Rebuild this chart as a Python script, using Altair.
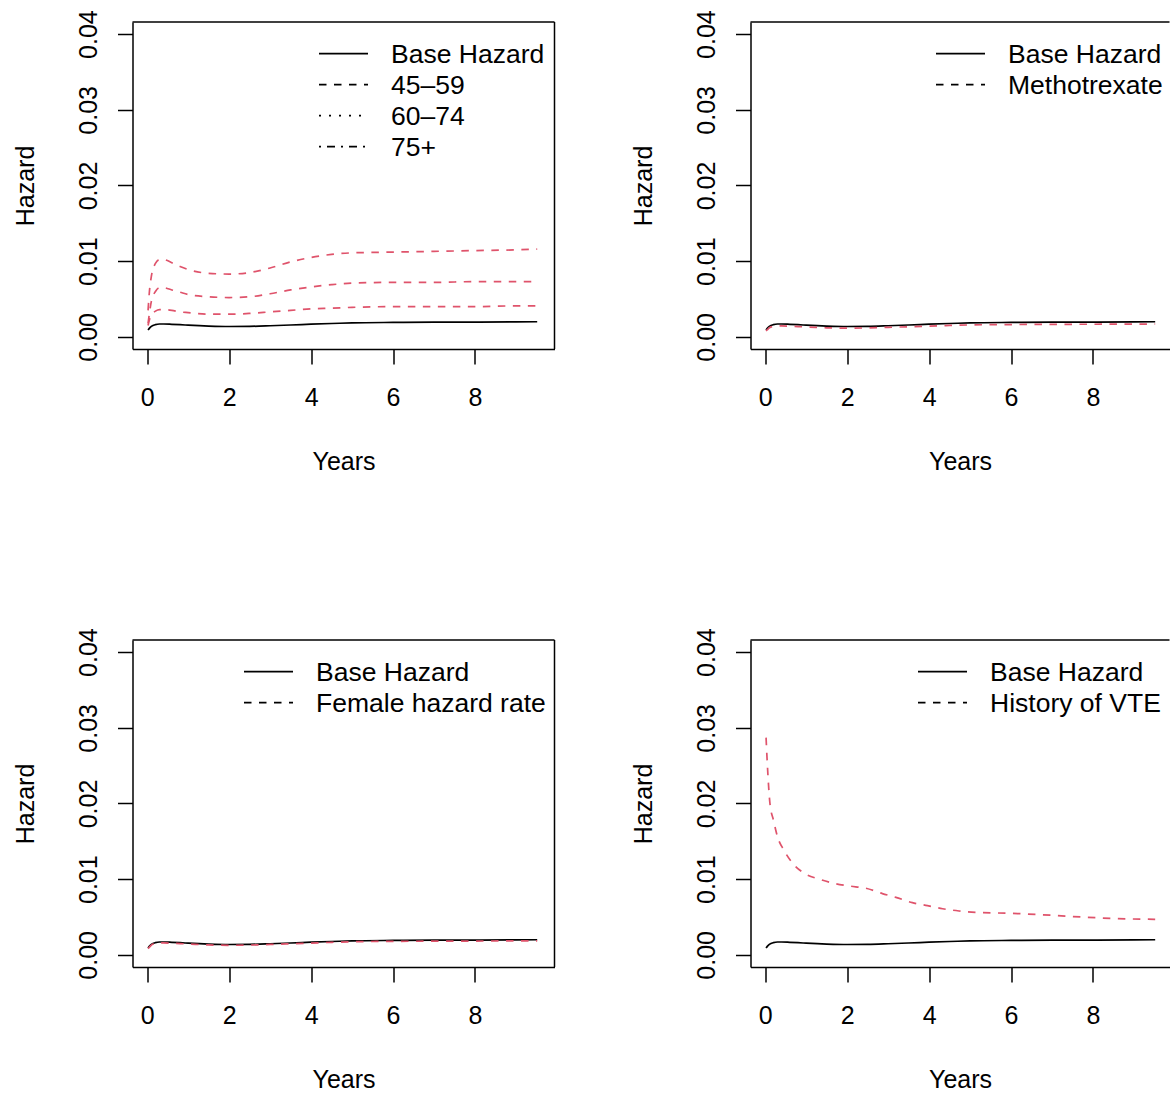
import altair as alt
import pandas as pd

# ---- data -------------------------------------------------------------
years = [0.02, 0.05, 0.1, 0.2, 0.3, 0.4, 0.6, 0.8, 1.0, 1.5, 2.0, 2.5,
         3.0, 3.5, 4.0, 4.5, 5.0, 6.0, 7.0, 8.0, 9.0, 9.52]

base_hazard = [0.0009, 0.00112, 0.00138, 0.00162, 0.0017, 0.0017, 0.00166,
               0.00161, 0.00155, 0.00143, 0.00137, 0.00139, 0.00147, 0.00157,
               0.00168, 0.00177, 0.00185, 0.00191, 0.00194, 0.00196, 0.00198,
               0.002]

age_45_59 = [0.0015, 0.0022, 0.0029, 0.0034, 0.0036, 0.0036, 0.0035, 0.0033,
             0.0032, 0.0030, 0.0030, 0.0031, 0.0033, 0.0035, 0.0037, 0.0038,
             0.0039, 0.0040, 0.0040, 0.0040, 0.0041, 0.0041]
age_60_74 = [0.0018, 0.0030, 0.0047, 0.0060, 0.0065, 0.0065, 0.0062, 0.0059,
             0.0056, 0.0053, 0.0052, 0.0053, 0.0057, 0.0062, 0.0066, 0.0069,
             0.0071, 0.0072, 0.0072, 0.0073, 0.0073, 0.0073]
age_75_plus = [0.0035, 0.0058, 0.0080, 0.0097, 0.0102, 0.0102, 0.0098, 0.0093,
               0.0089, 0.0084, 0.0083, 0.0085, 0.0091, 0.0099, 0.0105, 0.0109,
               0.0111, 0.0112, 0.0113, 0.0114, 0.0115, 0.0116]

methotrexate = [0.0008, 0.00095, 0.0012, 0.0014, 0.00145, 0.00145, 0.0014,
                0.00136, 0.00132, 0.0012, 0.00116, 0.00119, 0.00126, 0.00134,
                0.00143, 0.00151, 0.00158, 0.00163, 0.00166, 0.00167, 0.00169,
                0.0017]

female = [0.00084, 0.001, 0.0013, 0.00153, 0.00158, 0.00158, 0.00153, 0.00149,
          0.00144, 0.00132, 0.00127, 0.0013, 0.00138, 0.00147, 0.00156,
          0.00166, 0.00173, 0.00179, 0.00181, 0.00183, 0.00185, 0.00186]

vte_years = [0.02, 0.06, 0.115, 0.2, 0.3, 0.46, 0.67, 0.95, 1.32, 1.72, 2.05,
             2.46, 2.86, 3.19, 3.59, 3.96, 4.33, 4.73, 5.22, 5.95, 6.76, 7.73,
             8.55, 9.52]
vte_hazard = [0.0287, 0.0243, 0.0200, 0.0178, 0.0156, 0.0138, 0.0121, 0.0108,
              0.0100, 0.0094, 0.0091, 0.0088, 0.0081, 0.0076, 0.0069, 0.0065,
              0.0061, 0.0058, 0.0056, 0.0055, 0.0053, 0.0050, 0.0048, 0.0047]

legend_age = ["Base Hazard", "45\u201359", "60\u201374", "75+"]
legend_mtx = ["Base Hazard", "Methotrexate"]
legend_sex = ["Base Hazard", "Female hazard rate"]
legend_vte = ["Base Hazard", "History of VTE"]

x_ticks = [0, 2, 4, 6, 8]
y_ticks = [0.0, 0.01, 0.02, 0.03, 0.04]

# ---- styling / layout -------------------------------------------------
FONT = "Liberation Sans"
FS = 25
LEGEND_FS = 26.5
RED = "#DF536B"
PANEL_H = 327
LEFT_W = 422
RIGHT_W = 419
PX_PER_YEAR = 40.96
X_MIN = -0.36
Y_DOMAIN = [-0.0016, 0.0416]
LINE_W = 1.7
FRAME_W = 1.5
DASHES = [None, [7.5, 7.5], [2, 8], [2, 6, 8, 6]]


def x_axis():
    return alt.Axis(values=x_ticks, format="d", title="Years", grid=False,
                    domain=True, domainColor="black", domainWidth=FRAME_W,
                    ticks=True, tickSize=15, tickColor="black", tickWidth=FRAME_W,
                    labelFont=FONT, labelFontSize=FS, labelColor="black",
                    labelPadding=33, labelBaseline="middle", labelAngle=0,
                    labelFlush=False, labelOverlap=False,
                    titleFont=FONT, titleFontSize=FS, titleFontWeight="normal",
                    titleColor="black", titleY=120, titleBaseline="alphabetic")


def y_axis():
    return alt.Axis(values=y_ticks, format=".2f", title="Hazard", grid=False,
                    domain=True, domainColor="black", domainWidth=FRAME_W,
                    ticks=True, tickSize=15, tickColor="black", tickWidth=FRAME_W,
                    labelFont=FONT, labelFontSize=FS, labelColor="black",
                    labelAngle=270, labelAlign="center", labelBaseline="middle",
                    labelPadding=29.5, labelFlush=False, labelOverlap=False,
                    titleFont=FONT, titleFontSize=FS, titleFontWeight="normal",
                    titleColor="black", titleAngle=270, titleAlign="center",
                    titleBaseline="alphabetic", titleX=-99, titleY=PANEL_H / 2)


def panel(t_base, base, t_other, others, labels, width, line_x, text_x, close_right):
    xs = alt.Scale(domain=[X_MIN, X_MIN + width / PX_PER_YEAR], nice=False, zero=False)
    ys = alt.Scale(domain=Y_DOMAIN, nice=False, zero=False)

    base_df = pd.DataFrame({"years": t_base, "hazard": base})
    base_line = alt.Chart(base_df).mark_line(
        color="black", strokeWidth=LINE_W, interpolate="monotone"
    ).encode(
        x=alt.X("years:Q", scale=xs, axis=x_axis()),
        y=alt.Y("hazard:Q", scale=ys, axis=y_axis()),
    )

    rows = []
    for name, vals in others:
        for t, v in zip(t_other, vals):
            rows.append({"years": t, "hazard": v, "series": name})
    other_df = pd.DataFrame(rows)
    other_lines = alt.Chart(other_df).mark_line(
        color=RED, strokeWidth=LINE_W, strokeDash=[7.5, 7.5], interpolate="monotone"
    ).encode(
        x=alt.X("years:Q", scale=xs),
        y=alt.Y("hazard:Q", scale=ys),
        detail="series:N",
    )

    layers = [base_line, other_lines]

    one = pd.DataFrame({"k": [0]})
    # frame: top edge (and right edge for the left column)
    layers.append(alt.Chart(one).mark_rule(color="black", strokeWidth=FRAME_W).encode(
        x=alt.value(0), x2=alt.value(width), y=alt.value(0)))
    if close_right:
        layers.append(alt.Chart(one).mark_rule(color="black", strokeWidth=FRAME_W).encode(
            x=alt.value(width), y=alt.value(0), y2=alt.value(PANEL_H)))

    # legend (no box), one row per entry
    for i, lab in enumerate(labels):
        row_y = 31.6 + 31 * i
        rule_kw = dict(color="black", strokeWidth=LINE_W)
        if DASHES[i] is not None:
            rule_kw["strokeDash"] = DASHES[i]
        layers.append(alt.Chart(one).mark_rule(**rule_kw).encode(
            x=alt.value(line_x), x2=alt.value(line_x + 49), y=alt.value(row_y)))
        layers.append(alt.Chart(one).mark_text(
            align="left", baseline="alphabetic", font=FONT, fontSize=LEGEND_FS,
            color="black"
        ).encode(x=alt.value(text_x), y=alt.value(row_y + 9.5), text=alt.value(lab)))

    return alt.layer(*layers).properties(width=width, height=PANEL_H)


p_age = panel(years, base_hazard, years,
              [("45-59", age_45_59), ("60-74", age_60_74), ("75+", age_75_plus)],
              legend_age, LEFT_W, 186.5, 258.5, True)
p_mtx = panel(years, base_hazard, years, [("Methotrexate", methotrexate)],
              legend_mtx, RIGHT_W, 185.5, 257.5, False)
p_sex = panel(years, base_hazard, years, [("Female", female)],
              legend_sex, LEFT_W, 111.5, 183.5, True)
p_vte = panel(years, base_hazard, vte_years, [("History of VTE", vte_hazard)],
              legend_vte, RIGHT_W, 167.5, 239.5, False)

chart = alt.concat(
    p_age, p_mtx, p_sex, p_vte,
    columns=2,
    spacing={"row": 291, "column": 196},
    bounds="flush",
).properties(
    padding={"left": 13.5, "top": 9, "right": 0, "bottom": 0},
    background="white",
).configure_view(stroke=None)

chart.save("out.html", embed_options={"renderer": "svg", "actions": False})
